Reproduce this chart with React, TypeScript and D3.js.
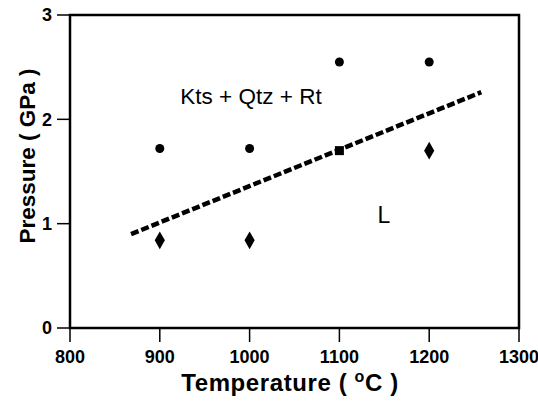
import React from "react";
import * as d3 from "d3";

const xTicks = [800, 900, 1000, 1100, 1200, 1300];
const yTicks = [0, 1, 2, 3];
const circleT = [900, 1000, 1100, 1200];
const circleP = [1.72, 1.72, 2.55, 2.55];
const diamondT = [900, 1000, 1200];
const diamondP = [0.84, 0.84, 1.7];
const squareT = [1100];
const squareP = [1.7];
const lineT = [868, 1258];
const lineP = [0.9, 2.26];

const W = 538, H = 402;
const left = 70, right = 519, top = 15, bottom = 328;

export default function App() {
  const x = d3.scaleLinear().domain([800, 1300]).range([left, right]);
  const y = d3.scaleLinear().domain([0, 3]).range([bottom, top]);
  const line = d3.line<number>().x((d, i) => x(lineT[i])).y((d, i) => y(lineP[i]));
  const font = "Liberation Sans, Arial, Helvetica, sans-serif";
  const diamond = d3.symbol(d3.symbolDiamond, 90)() as string;
  return (
    <svg width={W} height={H} style={{ position: "absolute", left: 0, top: 0, background: "#fff" }}>
      <rect x={0} y={0} width={W} height={H} fill="#fff" />
      <rect x={left} y={top} width={right - left} height={bottom - top} fill="none" stroke="#000" strokeWidth={2.5} />
      {yTicks.map((t) => (
        <g key={"y" + t}>
          <line x1={left - 13} x2={left} y1={y(t)} y2={y(t)} stroke="#000" strokeWidth={1.5} />
          <text x={left - 18} y={y(t)} dy="0.36em" textAnchor="end" fontFamily={font} fontWeight="bold" fontSize={18}>{t}</text>
        </g>
      ))}
      {xTicks.map((t) => (
        <g key={"x" + t}>
          <line x1={x(t)} x2={x(t)} y1={bottom} y2={bottom + 14} stroke="#000" strokeWidth={1.5} />
          <text x={x(t)} y={363} textAnchor="middle" fontFamily={font} fontWeight="bold" fontSize={18}>{t}</text>
        </g>
      ))}
      <path d={line(lineT) || ""} fill="none" stroke="#000" strokeWidth={4.5} strokeDasharray="8,3" />
      {circleT.map((t, i) => (
        <circle key={"c" + i} cx={x(t)} cy={y(circleP[i])} r={4.5} fill="#000" />
      ))}
      {diamondT.map((t, i) => (
        <path key={"d" + i} d={diamond} transform={`translate(${x(t)},${y(diamondP[i])})`} fill="#000" />
      ))}
      {squareT.map((t, i) => (
        <rect key={"s" + i} x={x(t) - 4.5} y={y(squareP[i]) - 4.5} width={9} height={9} fill="#000" />
      ))}
      <text x={251} y={104} textAnchor="middle" fontFamily={font} fontSize={22.5}>Kts + Qtz + Rt</text>
      <text x={384} y={223} textAnchor="middle" fontFamily={font} fontSize={23}>L</text>
      <text transform={`translate(35,156) rotate(-90)`} textAnchor="middle" fontFamily={font} fontWeight="bold" fontSize={22.5}>Pressure ( GPa )</text>
      <text x={290} y={391} textAnchor="middle" fontFamily={font} fontWeight="bold" fontSize={24} letterSpacing={0.6}>
        Temperature ( <tspan fontSize={16} dy={-9}>o</tspan><tspan dy={9}>C )</tspan>
      </text>
    </svg>
  );
}
